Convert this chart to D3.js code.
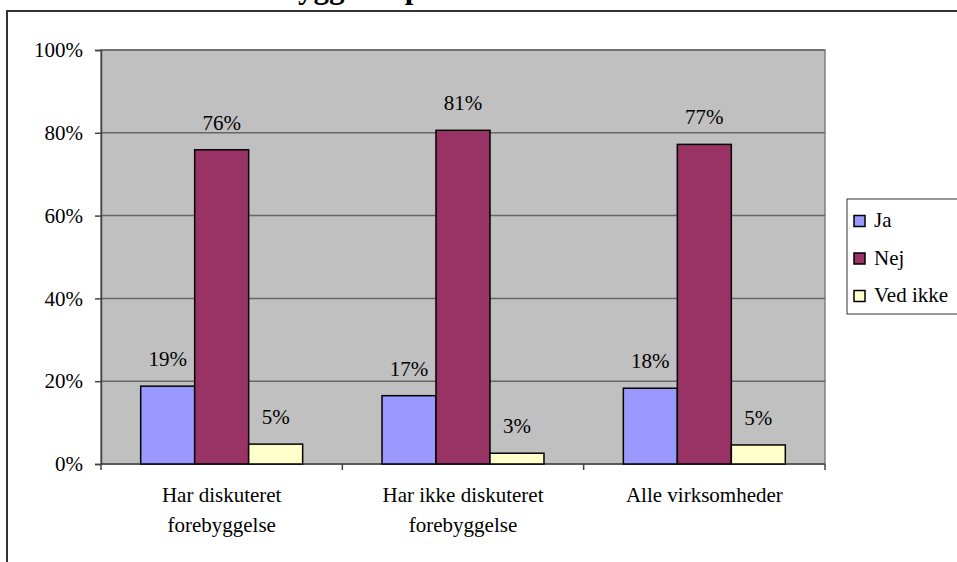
<!DOCTYPE html>
<html>
<head>
<meta charset="utf-8">
<script src="https://cdn.jsdelivr.net/npm/d3@7"></script>
<style>
  body { margin: 0; background: #fff; }
  text { font-family: "Liberation Serif", "Times New Roman", serif; fill: #000; }
</style>
</head>
<body>
<svg width="957" height="562"></svg>
<script>
var svg = d3.select("svg"),
  width = +svg.attr("width"),
  height = +svg.attr("height");

// data
var titleText = "Har virksomheden en forebyggelsespolitik?";
var categories = [["Har diskuteret", "forebyggelse"], ["Har ikke diskuteret", "forebyggelse"], ["Alle virksomheder"]];
var seriesNames = ["Ja", "Nej", "Ved ikke"];
var jaValues = [0.188, 0.165, 0.183];
var nejValues = [0.759, 0.806, 0.772];
var vedIkkeValues = [0.048, 0.026, 0.046];
var yTicks = [0, 0.2, 0.4, 0.6, 0.8, 1];
var colors = ["#9999FF", "#993366", "#FFFFCC"];

var series = [jaValues, nejValues, vedIkkeValues];
var plot = { left: 101, top: 50, right: 825, bottom: 464 };
var fontSize = "21px";

// outer chart frame (runs off the right and bottom edges)
svg.append("rect")
  .attr("x", 7).attr("y", 11)
  .attr("width", 1000).attr("height", 600)
  .attr("fill", "none")
  .attr("stroke", "#333")
  .attr("stroke-width", 2);

// title, mostly clipped above the top edge like in the original
var title = svg.append("text")
  .attr("y", -2.5)
  .style("font-size", "31px")
  .style("font-weight", "bold")
  .text(titleText);
var yIndex = titleText.indexOf("y");
var offset = title.node().getSubStringLength(0, yIndex);
title.attr("x", 298 - offset);

var x0 = d3.scaleBand()
  .domain(d3.range(categories.length))
  .range([plot.left, plot.right]);

var x1 = d3.scaleBand()
  .domain(d3.range(seriesNames.length))
  .range([0, x0.bandwidth()])
  .paddingOuter(0.735)
  .paddingInner(0);

var y = d3.scaleLinear()
  .domain([0, 1])
  .range([plot.bottom, plot.top]);

// plot background
svg.append("rect")
  .attr("x", plot.left).attr("y", plot.top)
  .attr("width", plot.right - plot.left)
  .attr("height", plot.bottom - plot.top)
  .attr("fill", "#C0C0C0")
  .attr("stroke", "#808080")
  .attr("stroke-width", 1.5);

// gridlines
svg.append("g")
  .selectAll("line")
  .data(yTicks.slice(1))
  .enter()
  .append("line")
  .attr("x1", plot.left).attr("x2", plot.right)
  .attr("y1", function (d) { return y(d); })
  .attr("y2", function (d) { return y(d); })
  .attr("stroke", "#666")
  .attr("stroke-width", 1.5);

// y axis
var yAxis = svg.append("g")
  .attr("transform", "translate(" + plot.left + ",0)")
  .call(d3.axisLeft(y).tickValues(yTicks).tickFormat(d3.format(".0%")).tickSize(6).tickPadding(12));
yAxis.select(".domain").attr("stroke", "#444").attr("stroke-width", 1.5);
yAxis.selectAll(".tick line").attr("stroke", "#444").attr("stroke-width", 1.5);
yAxis.selectAll("text").style("font-size", fontSize).attr("fill", "#000");

// x axis ticks between categories
var xTicks = d3.range(categories.length + 1).map(function (i) {
  return plot.left + i * x0.bandwidth();
});
svg.append("line")
  .attr("x1", plot.left).attr("x2", plot.right)
  .attr("y1", plot.bottom).attr("y2", plot.bottom)
  .attr("stroke", "#444").attr("stroke-width", 1.5);
svg.append("g")
  .selectAll("line")
  .data(xTicks)
  .enter()
  .append("line")
  .attr("x1", function (d) { return d; })
  .attr("x2", function (d) { return d; })
  .attr("y1", plot.bottom).attr("y2", plot.bottom + 6)
  .attr("stroke", "#444").attr("stroke-width", 1.5);

// category labels
svg.append("g")
  .selectAll("text")
  .data(categories)
  .enter()
  .append("text")
  .attr("text-anchor", "middle")
  .style("font-size", fontSize)
  .attr("transform", function (d, i) {
    return "translate(" + (x0(i) + x0.bandwidth() / 2) + "," + 502 + ")";
  })
  .selectAll("tspan")
  .data(function (d) { return d; })
  .enter()
  .append("tspan")
  .attr("x", 0)
  .attr("y", function (d, i) { return i * 30; })
  .text(function (d) { return d; });

// bars
var groups = svg.append("g")
  .selectAll("g")
  .data(categories)
  .enter()
  .append("g")
  .attr("transform", function (d, i) { return "translate(" + x0(i) + ",0)"; });

var bars = groups.selectAll("g")
  .data(function (d, i) {
    return series.map(function (s, k) { return { key: k, value: s[i] }; });
  })
  .enter()
  .append("g");

bars.append("rect")
  .attr("x", function (d) { return x1(d.key); })
  .attr("y", function (d) { return y(d.value); })
  .attr("width", x1.bandwidth())
  .attr("height", function (d) { return y(0) - y(d.value); })
  .attr("fill", function (d) { return colors[d.key]; })
  .attr("stroke", "#000")
  .attr("stroke-width", 1.5);

bars.append("text")
  .attr("x", function (d) { return x1(d.key) + x1.bandwidth() / 2; })
  .attr("y", function (d) { return y(d.value) - 20; })
  .attr("text-anchor", "middle")
  .style("font-size", fontSize)
  .text(function (d) { return d3.format(".0%")(d.value); });

// legend
var legend = svg.append("g").attr("transform", "translate(847,199)");
legend.append("rect")
  .attr("width", 130).attr("height", 115)
  .attr("fill", "#fff")
  .attr("stroke", "#333")
  .attr("stroke-width", 1);

var items = legend.selectAll("g")
  .data(seriesNames)
  .enter()
  .append("g")
  .attr("transform", function (d, i) { return "translate(7," + (22 + i * 37.5) + ")"; });

items.append("rect")
  .attr("x", 0).attr("y", -5.5)
  .attr("width", 11).attr("height", 11)
  .attr("fill", function (d, i) { return colors[i]; })
  .attr("stroke", "#000")
  .attr("stroke-width", 1.5);

items.append("text")
  .attr("x", 20).attr("y", 6)
  .style("font-size", fontSize)
  .text(function (d) { return d; });
</script>
</body>
</html>
